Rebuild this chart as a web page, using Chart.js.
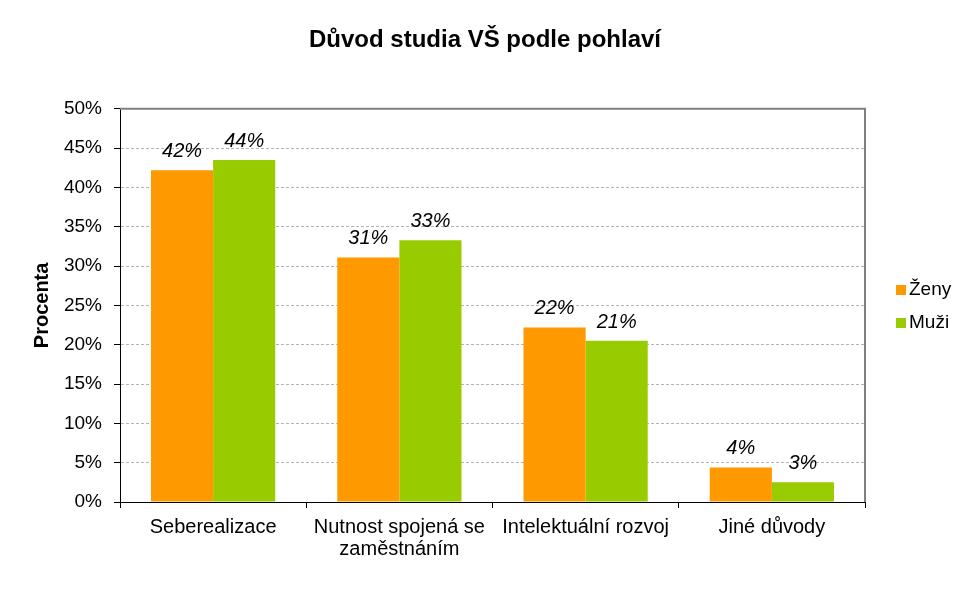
<!DOCTYPE html>
<html>
<head>
<meta charset="utf-8">
<script src="https://cdn.jsdelivr.net/npm/chart.js@4.4.1/dist/chart.umd.min.js"></script>
<style>
    html, body { margin: 0; padding: 0; background: #fff; }
</style>
</head>
<body>
<canvas id="chart" width="970" height="600"></canvas>
<script>
// data
const categories = ["Seberealizace", ["Nutnost spojená se", "zaměstnáním"], "Intelektuální rozvoj", "Jiné důvody"];
const seriesNames = ["Ženy", "Muži"];
const zeny = [42.2, 31.1, 22.2, 4.4];
const muzi = [43.5, 33.3, 20.5, 2.5];
const seriesColors = ["#FF9900", "#99CC00"];

const FONT = "'Liberation Sans', Arial, sans-serif";

// value labels above bars, italic like the original
const barLabels = {
    id: "barLabels",
    afterDatasetsDraw(chart) {
        const ctx = chart.ctx;
        ctx.save();
        ctx.font = "italic 20px " + FONT;
        ctx.fillStyle = "#000";
        ctx.textAlign = "center";
        ctx.textBaseline = "alphabetic";
        chart.data.datasets.forEach((ds, i) => {
            chart.getDatasetMeta(i).data.forEach((bar, j) => {
                ctx.fillText(Math.round(ds.data[j]) + "%", bar.x, bar.y - 13);
            });
        });
        ctx.restore();
    },
};

// grey frame on top and right of the plot area
const plotFrame = {
    id: "plotFrame",
    afterDraw(chart) {
        const { left, right, top, bottom } = chart.chartArea;
        const ctx = chart.ctx;
        ctx.save();
        ctx.strokeStyle = "#808080";
        ctx.lineWidth = 2;
        ctx.beginPath();
        ctx.moveTo(left, top);
        ctx.lineTo(right, top);
        ctx.lineTo(right, bottom);
        ctx.stroke();
        ctx.restore();
    },
};

// small legend at the right side
const sideLegend = {
    id: "sideLegend",
    afterDraw(chart) {
        const ctx = chart.ctx;
        ctx.save();
        ctx.font = "19px " + FONT;
        ctx.textBaseline = "middle";
        ctx.textAlign = "left";
        chart.data.datasets.forEach((ds, i) => {
            const y = 290 + i * 33;
            ctx.fillStyle = ds.backgroundColor;
            ctx.fillRect(896, y - 5, 10, 10);
            ctx.fillStyle = "#000";
            ctx.fillText(ds.label, 909, y);
        });
        ctx.restore();
    },
};

new Chart(document.getElementById("chart"), {
    type: "bar",
    data: {
        labels: categories,
        datasets: [
            { label: seriesNames[0], data: zeny, backgroundColor: seriesColors[0] },
            { label: seriesNames[1], data: muzi, backgroundColor: seriesColors[1] },
        ],
    },
    options: {
        responsive: false,
        animation: false,
        devicePixelRatio: 1,
        categoryPercentage: 0.667,
        barPercentage: 1,
        layout: {
            padding: 0,
        },
        scales: {
            x: {
                grid: {
                    offset: true,
                    drawOnChartArea: false,
                    drawTicks: true,
                    tickLength: 6,
                    tickColor: "#000",
                },
                border: { color: "#000", width: 1 },
                ticks: {
                    color: "#000",
                    font: { family: FONT, size: 20, lineHeight: 1.1 },
                    padding: 8,
                    maxRotation: 0,
                    autoSkip: false,
                },
                afterFit(scale) {
                    scale.height = 98;
                },
            },
            y: {
                min: 0,
                max: 50,
                ticks: {
                    stepSize: 5,
                    color: "#000",
                    font: { family: FONT, size: 19 },
                    padding: 12,
                    callback: (v) => v + "%",
                },
                grid: {
                    color: (c) => (c.tick && (c.tick.value === 0 || c.tick.value === 50) ? "rgba(0,0,0,0)" : "#b4b4b4"),
                    tickColor: "#000",
                    tickLength: 6,
                },
                border: { color: "#000", width: 1, dash: [3, 2] },
                title: {
                    display: true,
                    text: "Procenta",
                    color: "#000",
                    font: { family: FONT, size: 20, weight: "bold" },
                    padding: { top: 30, bottom: 0 },
                },
                afterFit(scale) {
                    scale.width = 120;
                },
            },
            // empty axis on the right, only reserves room for the legend
            yRight: {
                position: "right",
                display: true,
                grid: { display: false },
                ticks: { display: false },
                border: { display: false },
                afterFit(scale) {
                    scale.width = 105;
                },
            },
        },
        plugins: {
            legend: { display: false },
            tooltip: { enabled: false },
            title: {
                display: true,
                text: "Důvod studia VŠ podle pohlaví",
                color: "#000",
                font: { family: FONT, size: 24, weight: "bold" },
                padding: { top: 26, bottom: 54 },
            },
        },
    },
    plugins: [barLabels, plotFrame, sideLegend],
});
</script>
</body>
</html>
